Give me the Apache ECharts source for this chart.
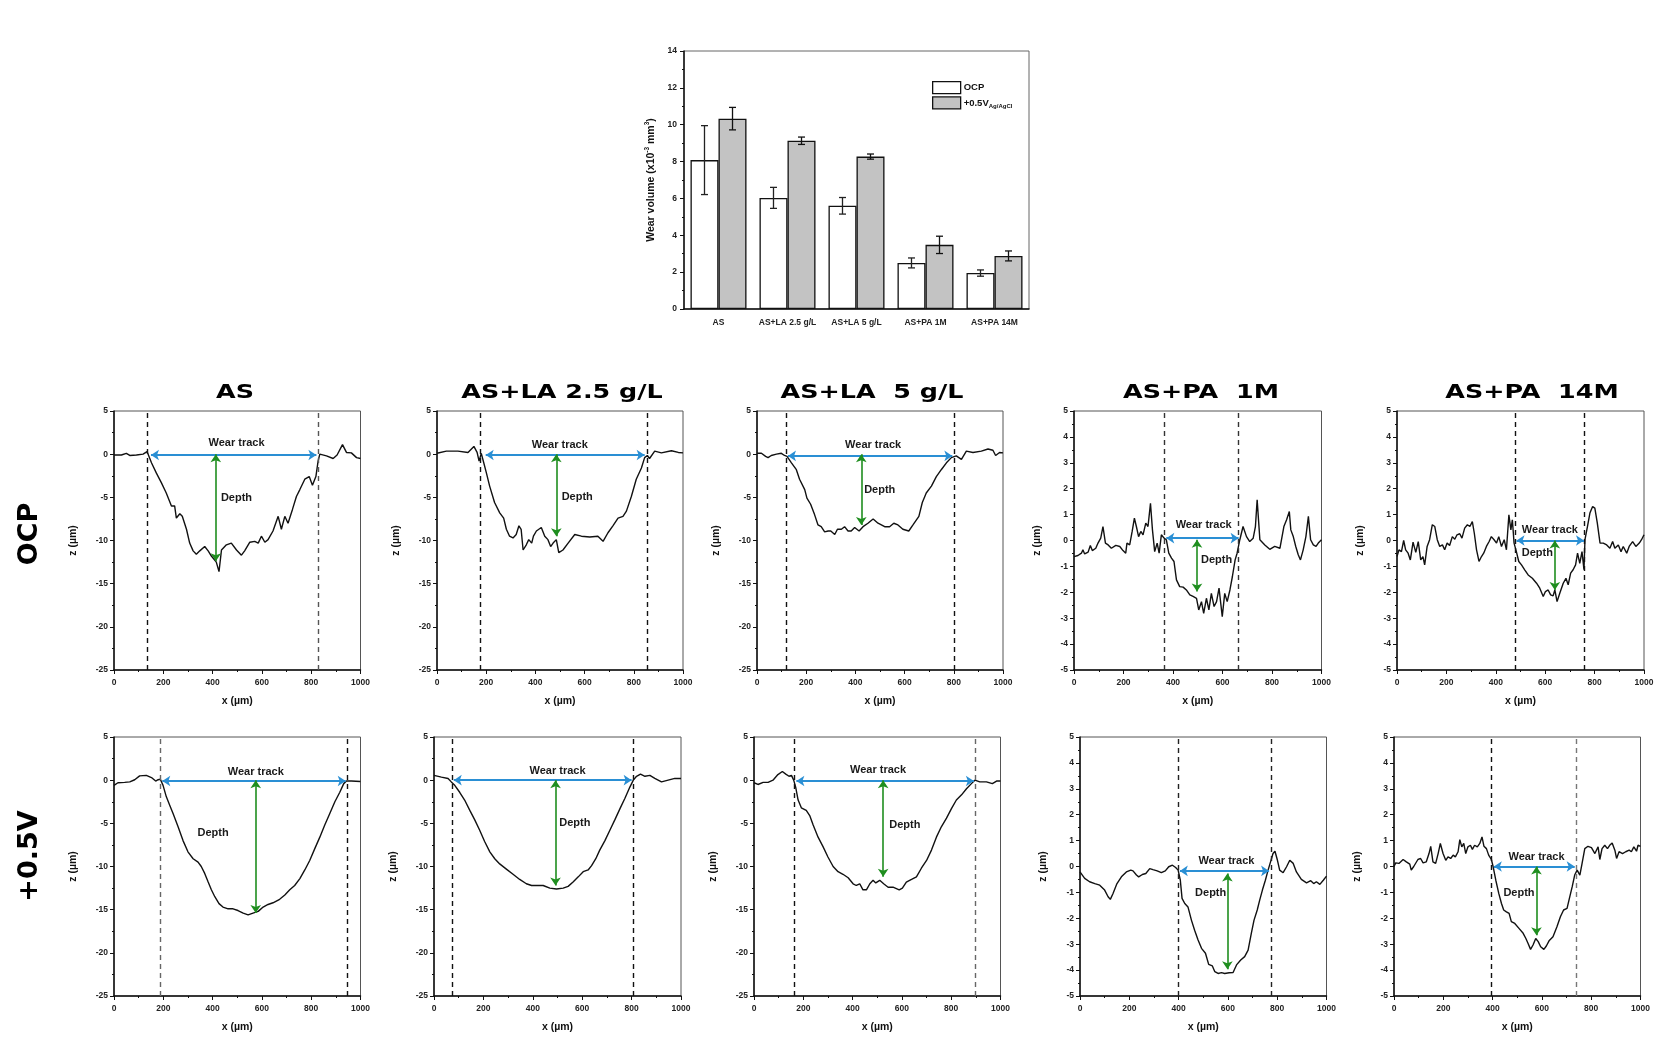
<!DOCTYPE html>
<html><head><meta charset="utf-8">
<script src="https://cdn.jsdelivr.net/npm/echarts/dist/echarts.min.js"></script>
<style>html,body{margin:0;padding:0;background:#fff}#c{width:1658px;height:1050px}</style>
</head><body><div id="c"></div><script>
// ---------------- DATA ----------------
const colTitles = ['AS', 'AS+LA 2.5 g/L', 'AS+LA  5 g/L', 'AS+PA  1M', 'AS+PA  14M'];
const rowLabels = ['OCP', '+0.5V'];

const barCategories = ['AS', 'AS+LA 2.5 g/L', 'AS+LA 5 g/L', 'AS+PA 1M', 'AS+PA 14M'];
const ocpVolume = [8.08, 6.03, 5.6, 2.5, 1.95];
const ocpError = [1.87, 0.57, 0.45, 0.27, 0.17];
const anodicVolume = [10.33, 9.13, 8.27, 3.48, 2.88];
const anodicError = [0.61, 0.2, 0.14, 0.47, 0.27];

// OCP row profiles [x (µm), z (µm)]
const profOCP_AS = [[0,-0.1],[30,-0.1],[50,0.1],[64,-0.15],[91,-0.1],[118,0],[134,0.3],[152,-1.0],[172,-2.2],[192,-3.3],[212,-4.5],[233,-6.0],[246,-6.0],[253,-7.4],[267,-6.9],[277,-7.2],[294,-8.7],[307,-10.3],[321,-11.2],[334,-11.6],[348,-11.2],[368,-10.7],[382,-11.2],[395,-11.8],[415,-12.5],[426,-13.6],[436,-11.1],[456,-10.5],[476,-10.3],[497,-11.1],[517,-11.7],[530,-11.2],[551,-10.2],[571,-10.1],[585,-10.3],[598,-9.5],[612,-10.2],[625,-9.9],[645,-8.9],[666,-7.2],[679,-8.7],[693,-7.2],[706,-8.0],[724,-6.4],[740,-4.9],[754,-4.1],[774,-2.9],[792,-2.6],[805,-3.6],[819,-2.6],[828,-0.8],[835,0],[862,-0.2],[889,-0.5],[905,-0.1],[927,1.1],[943,0.2],[963,0.15],[984,-0.4],[1000,-0.5]];
const profOCP_LA25 = [[0,0.1],[38,0.35],[85,0.35],[126,0.2],[150,0.9],[163,0.2],[171,-0.8],[180,0.1],[190,-1.0],[201,-2.2],[214,-3.7],[234,-5.6],[255,-6.8],[271,-7.4],[282,-8.7],[295,-9.5],[309,-9.7],[322,-9.3],[333,-8.3],[342,-8.7],[350,-11.1],[363,-10.5],[373,-9.9],[385,-10.3],[392,-9.5],[404,-8.9],[424,-8.5],[438,-9.5],[451,-9.9],[462,-10.7],[472,-10.3],[485,-9.9],[495,-11.4],[512,-11.1],[533,-10.3],[560,-9.3],[587,-9.5],[621,-9.6],[654,-9.5],[675,-10.1],[695,-9.1],[715,-8.3],[736,-7.4],[756,-7.2],[770,-6.6],[790,-4.9],[810,-2.9],[831,-1.6],[844,-0.4],[855,-0.15],[864,-0.5],[885,0.35],[912,0.15],[953,0.4],[981,0.2],[1000,0.15]];
const profOCP_LA5 = [[0,0.1],[18,0.1],[35,-0.25],[45,-0.4],[58,-0.15],[79,0],[99,0.1],[112,-0.15],[122,-0.25],[140,-1.0],[160,-1.8],[173,-2.9],[194,-4.1],[203,-5.1],[218,-5.8],[234,-7.0],[248,-8.2],[261,-8.4],[275,-9.0],[289,-8.9],[300,-8.9],[316,-9.3],[327,-8.7],[343,-8.7],[356,-8.4],[370,-8.9],[383,-8.9],[397,-8.5],[415,-8.9],[431,-8.4],[451,-8.0],[472,-7.5],[492,-8.0],[519,-8.4],[539,-8.4],[556,-8.0],[573,-8.2],[593,-8.7],[617,-8.9],[634,-8.2],[658,-7.2],[672,-5.6],[688,-4.5],[709,-3.7],[729,-2.6],[749,-1.8],[770,-1.0],[790,-0.4],[810,-0.2],[831,-0.6],[851,0.35],[878,0.2],[912,0.35],[939,0.6],[959,0.45],[970,-0.15],[986,0.2],[1000,0.15]];
const profOCP_PA1 = [[0,-0.62],[16,-0.58],[30,-0.49],[36,-0.36],[43,-0.52],[57,-0.45],[66,-0.19],[74,-0.39],[88,-0.3],[97,-0.1],[108,0.09],[117,0.54],[127,-0.1],[138,-0.17],[151,-0.3],[169,-0.19],[185,-0.23],[198,-0.39],[209,-0.49],[214,-0.1],[225,-0.17],[235,0.35],[244,0.86],[252,0.54],[261,0.15],[270,0.35],[279,0.22],[290,0.67],[299,0.54],[309,1.44],[317,0.41],[326,-0.43],[336,-0.1],[344,-0.49],[353,0.22],[364,0.09],[373,0.03],[383,-0.49],[394,-0.68],[404,-0.81],[414,-1.52],[427,-1.78],[441,-1.8],[454,-1.91],[468,-2.1],[481,-2.16],[495,-2.23],[504,-2.68],[515,-2.36],[524,-2.81],[535,-2.23],[545,-2.68],[555,-2.04],[566,-2.55],[576,-2.36],[586,-1.84],[599,-2.94],[609,-2.04],[619,-2.36],[630,-1.91],[640,-1.39],[651,-0.75],[659,-0.49],[670,0.03],[683,0.54],[697,0.15],[710,-0.04],[724,0.09],[733,0.54],[740,1.57],[751,0.03],[771,-0.17],[791,-0.34],[811,-0.23],[832,-0.3],[848,0.54],[859,0.8],[870,1.12],[876,0.41],[886,0.15],[896,-0.23],[906,-0.55],[915,-0.75],[926,-0.36],[937,0.15],[947,0.93],[956,0.03],[967,-0.17],[978,-0.23],[987,-0.1],[1000,0.03]];
const profOCP_PA14 = [[0,-0.62],[8,-0.36],[18,-0.43],[27,0],[35,-0.36],[45,-0.49],[54,-0.75],[65,-0.06],[76,-0.46],[86,-0.04],[96,-0.75],[105,-0.62],[112,-0.94],[122,-0.23],[132,0.03],[143,0.61],[153,0.54],[163,0.03],[173,-0.23],[184,-0.17],[193,-0.36],[203,-0.1],[213,-0.19],[224,0.15],[234,0.05],[243,0.22],[254,0.26],[263,0.09],[274,0.48],[285,0.61],[295,0.54],[305,0.73],[313,0.28],[322,-0.36],[332,-0.81],[342,-0.62],[351,-0.49],[362,-0.23],[373,-0.04],[382,0.15],[393,0.03],[403,-0.1],[412,0.15],[423,-0.23],[434,0.03],[443,-0.36],[453,0.99],[461,0.41],[467,0.8],[474,-0.1],[484,-0.46],[493,-0.81],[504,-0.94],[517,-1.13],[531,-1.33],[548,-1.46],[565,-1.65],[578,-1.84],[592,-2.16],[601,-1.97],[612,-1.91],[622,-2.1],[632,-2.14],[639,-1.91],[648,-2.36],[659,-2.04],[673,-1.65],[684,-1.46],[693,-1.71],[703,-1.26],[713,-1.13],[723,-0.94],[731,-0.49],[740,-0.88],[749,-0.43],[757,-1.13],[761,0.03],[771,0.54],[781,1.06],[792,1.31],[801,1.25],[811,0.67],[822,-0.1],[835,-0.1],[849,-0.17],[862,-0.3],[873,-0.04],[882,-0.3],[896,-0.17],[907,-0.43],[916,-0.23],[930,-0.49],[940,-0.23],[954,-0.04],[967,-0.23],[981,-0.1],[990,0.03],[1000,0.22]];

// +0.5V row profiles
const profV_AS = [[0,-0.6],[16,-0.3],[43,-0.25],[64,-0.2],[84,0.05],[104,0.5],[131,0.55],[152,0.3],[169,-0.1],[179,0.05],[188,0.1],[199,-0.6],[212,-1.9],[226,-2.9],[240,-3.9],[260,-5.4],[280,-7.0],[300,-8.3],[321,-9.1],[341,-9.5],[354,-10.0],[368,-10.8],[382,-11.8],[395,-12.7],[409,-13.5],[426,-14.3],[442,-14.7],[463,-14.9],[483,-14.9],[503,-15.1],[524,-15.4],[544,-15.6],[564,-15.4],[585,-15.2],[605,-14.7],[625,-14.4],[645,-14.2],[672,-13.8],[693,-13.3],[713,-12.7],[733,-12.2],[754,-11.4],[774,-10.4],[794,-9.3],[815,-7.9],[835,-6.6],[855,-5.2],[875,-3.9],[896,-2.5],[916,-1.4],[932,-0.4],[943,-0.1],[963,-0.1],[1000,-0.15]];
const profV_LA25 = [[0,0.55],[30,0.35],[57,0.2],[70,-0.2],[84,-0.6],[104,-1.4],[124,-2.3],[145,-3.5],[165,-4.6],[185,-5.8],[205,-7.1],[226,-8.3],[246,-9.1],[266,-9.7],[293,-10.3],[320,-10.9],[347,-11.5],[374,-12.0],[395,-12.2],[415,-12.2],[442,-12.2],[469,-12.5],[496,-12.6],[523,-12.5],[543,-12.3],[563,-11.8],[584,-11.2],[604,-10.6],[624,-10.4],[638,-9.9],[655,-9.1],[671,-8.1],[692,-7.0],[712,-5.8],[732,-4.6],[753,-3.3],[773,-2.1],[793,-0.8],[807,0],[820,0.45],[836,0.7],[854,0.45],[874,0.55],[894,0.2],[921,-0.2],[948,0],[975,0.2],[1000,0.2]];
const profV_LA5 = [[0,-0.3],[16,-0.5],[37,-0.25],[57,-0.25],[77,0],[97,0.65],[115,1.0],[129,0.7],[142,0.45],[152,0.55],[161,0],[169,-0.8],[179,-2.3],[192,-3.2],[212,-3.5],[226,-4.1],[240,-5.2],[260,-6.6],[280,-7.7],[300,-8.9],[321,-10.0],[341,-10.6],[361,-10.9],[382,-11.3],[402,-12.0],[415,-12.2],[429,-12.0],[442,-12.7],[456,-12.7],[470,-12.0],[483,-11.6],[494,-11.9],[510,-11.6],[526,-12.0],[544,-12.4],[564,-12.4],[589,-12.7],[602,-12.5],[618,-11.8],[639,-11.5],[659,-11.2],[679,-10.2],[700,-9.3],[720,-8.1],[740,-6.6],[760,-5.4],[781,-4.4],[801,-3.3],[821,-2.3],[842,-1.7],[862,-1.0],[882,-0.4],[896,0],[916,-0.2],[943,-0.2],[967,-0.4],[984,-0.1],[1000,-0.1]];
const profV_PA1 = [[0,-0.21],[19,-0.46],[39,-0.59],[60,-0.66],[80,-0.72],[100,-0.91],[114,-1.17],[123,-1.27],[134,-1.04],[150,-0.66],[168,-0.4],[188,-0.21],[206,-0.14],[215,-0.17],[229,-0.33],[238,-0.4],[253,-0.31],[267,-0.27],[283,-0.08],[296,-0.12],[313,-0.17],[330,-0.24],[346,-0.17],[360,-0.01],[375,0.05],[388,-0.04],[398,-0.14],[407,-0.53],[414,-1.23],[425,-1.43],[438,-1.56],[452,-2.07],[465,-2.46],[479,-2.84],[493,-3.16],[509,-3.35],[522,-3.78],[537,-3.84],[547,-4.06],[560,-4.13],[574,-4.1],[587,-4.13],[605,-4.1],[621,-4.09],[635,-3.8],[652,-3.61],[668,-3.48],[682,-3.23],[695,-2.58],[706,-2.07],[719,-1.68],[729,-1.3],[740,-0.91],[752,-0.53],[763,-0.14],[773,0.18],[783,0.5],[791,0.59],[801,0.24],[810,-0.14],[824,-0.24],[838,-0.01],[851,0.24],[865,0.12],[878,-0.21],[898,-0.5],[919,-0.63],[936,-0.55],[948,-0.66],[959,-0.59],[973,-0.69],[987,-0.53],[1000,-0.37]];
const profV_PA14 = [[0,0],[7,0.14],[20,0.12],[37,0.27],[50,0.18],[64,0.09],[70,-0.14],[80,0],[97,0.27],[108,0.31],[118,0.14],[131,0.18],[142,0.5],[149,0.78],[158,0.18],[169,0.12],[179,0.5],[188,0.89],[199,0.5],[210,0.24],[219,0.37],[230,0.31],[240,0.44],[249,0.37],[260,0.57],[267,1.04],[275,0.76],[283,0.89],[291,0.5],[300,0.76],[310,0.82],[318,0.66],[327,0.82],[338,0.76],[348,0.89],[357,1.14],[365,0.78],[375,0.69],[384,0.44],[395,0.27],[402,0],[413,-0.53],[425,-1.04],[436,-1.43],[445,-1.68],[456,-1.75],[467,-1.81],[476,-2.13],[490,-2.2],[507,-2.39],[524,-2.58],[535,-2.78],[544,-2.97],[554,-3.2],[564,-3.03],[575,-2.78],[585,-2.9],[595,-3.1],[608,-3.2],[618,-3.07],[629,-2.87],[645,-2.71],[661,-2.33],[675,-1.94],[688,-1.68],[702,-1.62],[713,-1.17],[723,-0.78],[733,-0.33],[743,-0.14],[754,-0.33],[763,0.12],[774,0.69],[787,0.78],[801,0.73],[815,0.5],[828,0.76],[835,0.27],[844,0.69],[855,0.82],[866,0.69],[875,0.82],[885,0.91],[896,0.63],[903,0.31],[913,0.57],[927,0.5],[940,0.57],[954,0.63],[963,0.57],[973,0.76],[984,0.59],[990,0.82],[1000,0.78]];

const profiles = [profOCP_AS, profOCP_LA25, profOCP_LA5, profOCP_PA1, profOCP_PA14,
                  profV_AS, profV_LA25, profV_LA5, profV_PA1, profV_PA14];
const zRanges = [[-25,5],[-25,5],[-25,5],[-5,5],[-5,5],[-25,5],[-25,5],[-25,5],[-5,5],[-5,5]];
// wear-track edges (dashed lines), x in µm
const trackEdges = [[134,828],[176,854],[119,802],[364,665],[477,758],[188,946],[73,807],[165,897],[399,774],[396,740]];
// wear-track arrow [x start, x end, z]
const trackArrows = [[150,821,-0.1],[198,844,-0.1],[126,794,-0.2],[373,665,0.09],[484,757,0],[196,940,-0.1],[80,800,0],[172,892,-0.1],[405,767,-0.17],[405,733,0]];
// depth arrow [x, z top, z bottom]
const depthArrows = [[413,0,-12.4],[485,0,-9.5],[424,0,-8.2],[497,0.03,-1.97],[639,0,-1.91],[575,0,-15.4],[492,0,-12.2],[524,0,-11.2],[598,-0.27,-3.97],[578,0,-2.65]];
const wearLabelAt = [[497,1.3],[499,1.1],[472,1.1],[524,0.6],[619,0.39],[575,0.95],[500,1.05],[503,1.15],[594,0.22],[578,0.35]];
const depthLabelAt = [[497,-5.1],[570,-4.95],[499,-4.2],[576,-0.77],[568,-0.49],[402,-6.1],[570,-5.0],[612,-5.2],[530,-1.04],[507,-1.02]];

// ---------------- LAYOUT / STYLE ----------------
const F = 'Liberation Sans, Arial, sans-serif';
const edgeColors = [['#111','#555'],['#111','#111'],['#111','#111'],['#333','#333'],['#111','#111'],
                    ['#666','#111'],['#111','#111'],['#111','#666'],['#222','#222'],['#111','#777']];
const gridLefts = [114, 437, 757, 1074, 1397, 114, 434, 754, 1080, 1394];
const gridWidths = [246.5, 246, 246, 247.5, 247, 246.5, 247, 246.5, 246.5, 246.5];
const gridTops = [411, 737];
const gridH = 259;
const titleX = [235, 562, 872, 1201, 1532];
const titleY = 393;
const plainNum = v => String(v);

const grids = [], xAxes = [], yAxes = [], series = [];

// --- bar chart ---
grids.push({left: 684, top: 51, width: 345, height: 258, show: true, borderColor: '#666', borderWidth: 1, backgroundColor: 'transparent'});
xAxes.push({gridIndex: 0, type: 'category', data: barCategories,
  axisLine: {lineStyle: {color: '#111', width: 1.5}}, axisTick: {show: false},
  axisLabel: {interval: 0, fontSize: 8.5, fontWeight: 'bold', color: '#222', fontFamily: F, margin: 9}});
yAxes.push({gridIndex: 0, type: 'value', min: 0, max: 14, interval: 2,
  axisLine: {show: true, lineStyle: {color: '#111', width: 1.5}},
  axisTick: {show: true, length: 4, lineStyle: {color: '#111'}},
  minorTick: {show: true, splitNumber: 2, length: 2, lineStyle: {color: '#111'}},
  splitLine: {show: false},
  axisLabel: {fontSize: 8.5, fontWeight: 'bold', color: '#222', fontFamily: F, margin: 7, formatter: plainNum},
  name: 'Wear volume (x10{sup|-3} mm{sup|3})', nameLocation: 'middle', nameGap: 26,
  nameTextStyle: {fontSize: 10.5, fontWeight: 'bold', color: '#111', fontFamily: F, lineHeight: 14,
    rich: {sup: {fontSize: 6.5, fontWeight: 'bold', color: '#111', fontFamily: F, verticalAlign: 'top', lineHeight: 8}}}});

series.push({name: 'OCP', type: 'bar', xAxisIndex: 0, yAxisIndex: 0, data: ocpVolume, barWidth: 28, barGap: '0%',
  itemStyle: {color: '#ffffff', borderColor: '#111', borderWidth: 1.3}, animation: false, silent: true});
series.push({name: '+0.5V', type: 'bar', xAxisIndex: 0, yAxisIndex: 0, data: anodicVolume, barWidth: 28, barGap: '0%',
  itemStyle: {color: '#c3c3c3', borderColor: '#111', borderWidth: 1.3}, animation: false, silent: true});

function errRender(side, color) {
  return function (params, api) {
    const i = api.value(0);
    const lo = api.coord([i, api.value(1)]);
    const hi = api.coord([i, api.value(2)]);
    const band = api.size([1, 0])[0];
    const x = lo[0] + side * band * 0.203;
    const w = 3.5, st = {stroke: color, lineWidth: 1.3};
    return {type: 'group', children: [
      {type: 'line', shape: {x1: x, y1: lo[1], x2: x, y2: hi[1]}, style: st},
      {type: 'line', shape: {x1: x - w, y1: lo[1], x2: x + w, y2: lo[1]}, style: st},
      {type: 'line', shape: {x1: x - w, y1: hi[1], x2: x + w, y2: hi[1]}, style: st}]};
  };
}
series.push({type: 'custom', xAxisIndex: 0, yAxisIndex: 0, silent: true, z: 5, animation: false,
  encode: {x: 0, y: [1, 2]}, renderItem: errRender(-1, '#222'),
  data: ocpVolume.map((v, i) => [i, v - ocpError[i], v + ocpError[i]])});
series.push({type: 'custom', xAxisIndex: 0, yAxisIndex: 0, silent: true, z: 5, animation: false,
  encode: {x: 0, y: [1, 2]}, renderItem: errRender(1, '#111'),
  data: anodicVolume.map((v, i) => [i, v - anodicError[i], v + anodicError[i]])});

// --- profile panels ---
profiles.forEach((prof, k) => {
  const gi = k + 1;
  const row = k < 5 ? 0 : 1;
  const zr = zRanges[k];
  const small = zr[0] === -5;
  grids.push({left: gridLefts[k], top: gridTops[row], width: gridWidths[k], height: gridH,
    show: true, borderColor: '#555', borderWidth: 1, backgroundColor: 'transparent'});
  xAxes.push({gridIndex: gi, type: 'value', min: 0, max: 1000, interval: 200,
    axisLine: {show: true, onZero: false, lineStyle: {color: '#111', width: 1.5}},
    axisTick: {show: true, length: 4, lineStyle: {color: '#111'}},
    minorTick: {show: true, splitNumber: 2, length: 2, lineStyle: {color: '#111'}},
    splitLine: {show: false},
    axisLabel: {fontSize: 8.5, fontWeight: 'bold', color: '#222', fontFamily: F, margin: 8, formatter: plainNum},
    name: 'x (µm)', nameLocation: 'middle', nameGap: 26,
    nameTextStyle: {fontSize: 10.5, fontWeight: 'bold', color: '#111', fontFamily: F}});
  yAxes.push({gridIndex: gi, type: 'value', min: zr[0], max: zr[1], interval: small ? 1 : 5,
    axisLine: {show: true, onZero: false, lineStyle: {color: '#111', width: 1.5}},
    axisTick: {show: true, length: 4, lineStyle: {color: '#111'}},
    minorTick: {show: true, splitNumber: 2, length: 2, lineStyle: {color: '#111'}},
    splitLine: {show: false},
    axisLabel: {fontSize: 8.5, fontWeight: 'bold', color: '#222', fontFamily: F, margin: 6, formatter: plainNum},
    name: 'z (µm)', nameLocation: 'middle', nameGap: small ? 31 : 35,
    nameTextStyle: {fontSize: 10.5, fontWeight: 'bold', color: '#111', fontFamily: F}});

  const e = trackEdges[k], ta = trackArrows[k], da = depthArrows[k];
  series.push({type: 'line', xAxisIndex: gi, yAxisIndex: gi, data: prof, showSymbol: false,
    lineStyle: {color: '#111', width: 1.4}, animation: false, silent: true, z: 3,
    markLine: {silent: true, animation: false, symbol: 'none', symbolSize: 8, label: {show: false},
      data: [
        {xAxis: e[0], lineStyle: {color: edgeColors[k][0], type: [5, 4], width: 1.4}},
        {xAxis: e[1], lineStyle: {color: edgeColors[k][1], type: [5, 4], width: 1.4}},
        [{coord: [ta[0], ta[2]], symbol: 'arrow', symbolSize: 8, lineStyle: {color: '#2a8fd4', type: 'solid', width: 2}},
         {coord: [ta[1], ta[2]], symbol: 'arrow', symbolSize: 8}],
        [{coord: [da[0], da[1]], symbol: 'arrow', symbolSize: 8, lineStyle: {color: '#1f8e1f', type: 'solid', width: 1.6}},
         {coord: [da[0], da[2]], symbol: 'arrow', symbolSize: 8}]
      ]},
    markPoint: {silent: true, animation: false, symbol: 'rect', symbolSize: 1,
      itemStyle: {color: 'rgba(0,0,0,0)'},
      label: {show: true, position: 'inside', fontSize: 11, fontWeight: 'bold', color: '#1a1a1a', fontFamily: F,
        formatter: p => p.name},
      data: [{name: 'Wear track', coord: wearLabelAt[k]}, {name: 'Depth', coord: depthLabelAt[k]}]}
  });
});

// --- titles and row labels ---
const graphics = [];
colTitles.forEach((t, i) => graphics.push({type: 'text', x: titleX[i], y: titleY, scaleX: 1.27,
  style: {text: t, fontSize: 20, fontWeight: 'bold', fontFamily: 'DejaVu Sans', fill: '#000', align: 'center', verticalAlign: 'middle'}}));
const rowLabelY = [534, 856];
rowLabels.forEach((t, i) => graphics.push({type: 'text', x: 30, y: rowLabelY[i], rotation: Math.PI / 2,
  style: {text: t, fontSize: 27, fontWeight: 'bold', fontFamily: 'DejaVu Sans', fill: '#000', align: 'center', verticalAlign: 'middle'}}));

const chart = echarts.init(document.getElementById('c'), null, {renderer: 'canvas'});
chart.setOption({
  backgroundColor: '#ffffff',
  animation: false,
  grid: grids, xAxis: xAxes, yAxis: yAxes, series: series,
  legend: {data: ['OCP', '+0.5V'], orient: 'vertical', left: 927, top: 76, itemWidth: 28, itemHeight: 12, itemGap: 2,
    icon: 'rect', selectedMode: false,
    itemStyle: {borderColor: '#111', borderWidth: 1.3},
    formatter: n => n === '+0.5V' ? '+0.5V{sub|Ag/AgCl}' : n,
    textStyle: {fontSize: 9.5, fontWeight: 'bold', color: '#111', fontFamily: F, padding: [0, 0, 0, -2],
      rich: {sub: {fontSize: 6, fontWeight: 'bold', color: '#111', fontFamily: F, padding: [6, 0, 0, 0]}}}},
  graphic: graphics
});
</script></body></html>
